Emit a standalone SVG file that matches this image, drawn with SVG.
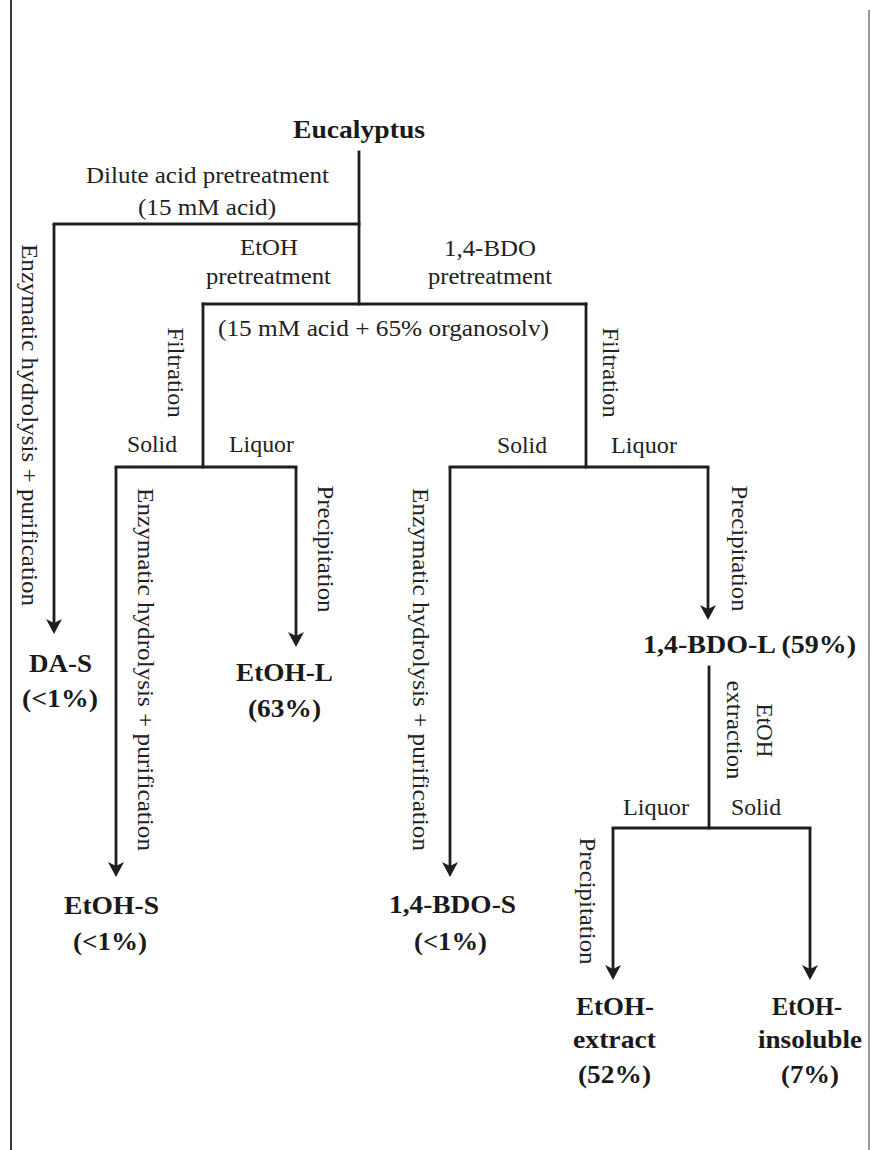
<svg xmlns="http://www.w3.org/2000/svg" width="871" height="1150" viewBox="0 0 871 1150">
<style>
.t{font-family:"Liberation Serif","Times New Roman",serif;font-size:23px;fill:#222;text-anchor:middle}
.b{font-family:"Liberation Serif","Times New Roman",serif;font-size:25px;font-weight:bold;fill:#1a1a1a;text-anchor:middle}
.ln{fill:none;stroke:#1e1e1e;stroke-width:2.8;stroke-linecap:square;stroke-linejoin:miter}
.ar{fill:none;stroke:#1e1e1e;stroke-width:2.8;marker-end:url(#ah)}
</style>
<defs>
<marker id="ah" markerUnits="userSpaceOnUse" viewBox="-10 -10 20 20" markerWidth="20" markerHeight="20" refX="0" refY="0" orient="auto">
<path d="M6,0 L-9,-8 L-5,0 L-9,8 Z" fill="#1e1e1e"/>
</marker>
</defs>
<rect x="0" y="0" width="871" height="1150" fill="#fff"/>
<g id="frame">
<line x1="11" y1="0" x2="11" y2="1150" stroke="#3a3a3a" stroke-width="2"/>
<line x1="869" y1="10" x2="869" y2="1150" stroke="#999" stroke-width="2"/>
</g>
<g id="connectors">
<path class="ln" d="M359,152 V304"/>
<path class="ln" d="M203,304 H586"/>
<path class="ln" d="M359,224 H54"/>
<path class="ar" d="M54,224 V628"/>
<path class="ln" d="M203,304 V467"/>
<path class="ln" d="M116,467 H296"/>
<path class="ar" d="M296,467 V641"/>
<path class="ar" d="M116,467 V871"/>
<path class="ln" d="M586,304 V467"/>
<path class="ln" d="M450,467 H708"/>
<path class="ar" d="M708,467 V614"/>
<path class="ar" d="M450,467 V871"/>
<path class="ln" d="M709,667 V828"/>
<path class="ln" d="M613,828 H810"/>
<path class="ar" d="M613,828 V974"/>
<path class="ar" d="M810,828 V974"/>
</g>
<g id="labels">
<text class="t" x="207.5" y="183" textLength="243" lengthAdjust="spacingAndGlyphs">Dilute acid pretreatment</text>
<text class="t" x="207" y="215" textLength="138" lengthAdjust="spacingAndGlyphs">(15 mM acid)</text>
<text class="t" x="269" y="255" textLength="58" lengthAdjust="spacingAndGlyphs">EtOH</text>
<text class="t" x="268.5" y="284" textLength="125" lengthAdjust="spacingAndGlyphs">pretreatment</text>
<text class="t" x="490" y="256" textLength="92" lengthAdjust="spacingAndGlyphs">1,4-BDO</text>
<text class="t" x="490" y="284" textLength="124" lengthAdjust="spacingAndGlyphs">pretreatment</text>
<text class="t" x="383.5" y="336" textLength="331" lengthAdjust="spacingAndGlyphs">(15 mM acid + 65% organosolv)</text>
<text class="t" x="152" y="452" textLength="50" lengthAdjust="spacingAndGlyphs">Solid</text>
<text class="t" x="261.5" y="452" textLength="65" lengthAdjust="spacingAndGlyphs">Liquor</text>
<text class="t" x="522" y="453" textLength="50" lengthAdjust="spacingAndGlyphs">Solid</text>
<text class="t" x="644" y="453" textLength="66" lengthAdjust="spacingAndGlyphs">Liquor</text>
<text class="t" x="656" y="815" textLength="66" lengthAdjust="spacingAndGlyphs">Liquor</text>
<text class="t" x="756" y="815" textLength="50" lengthAdjust="spacingAndGlyphs">Solid</text>
<text class="t" transform="translate(22,425) rotate(90)" textLength="362" lengthAdjust="spacingAndGlyphs">Enzymatic hydrolysis + purification</text>
<text class="t" transform="translate(168,372.5) rotate(90)" textLength="90" lengthAdjust="spacingAndGlyphs">Filtration</text>
<text class="t" transform="translate(138,669.5) rotate(90)" textLength="363" lengthAdjust="spacingAndGlyphs">Enzymatic hydrolysis + purification</text>
<text class="t" transform="translate(318,549) rotate(90)" textLength="127" lengthAdjust="spacingAndGlyphs">Precipitation</text>
<text class="t" transform="translate(413,669.5) rotate(90)" textLength="363" lengthAdjust="spacingAndGlyphs">Enzymatic hydrolysis + purification</text>
<text class="t" transform="translate(603,372.5) rotate(90)" textLength="90" lengthAdjust="spacingAndGlyphs">Filtration</text>
<text class="t" transform="translate(732,548.5) rotate(90)" textLength="126" lengthAdjust="spacingAndGlyphs">Precipitation</text>
<text class="t" transform="translate(757,730.5) rotate(90)" textLength="54" lengthAdjust="spacingAndGlyphs">EtOH</text>
<text class="t" transform="translate(727,730) rotate(90)" textLength="99" lengthAdjust="spacingAndGlyphs">extraction</text>
<text class="t" transform="translate(580,901) rotate(90)" textLength="127" lengthAdjust="spacingAndGlyphs">Precipitation</text>
</g>
<g id="node-eucalyptus"><text class="b" x="359" y="138" textLength="132" lengthAdjust="spacingAndGlyphs">Eucalyptus</text></g>
<g id="node-das">
<text class="b" x="60.5" y="672" textLength="63" lengthAdjust="spacingAndGlyphs">DA-S</text>
<text class="b" x="60" y="707" textLength="76" lengthAdjust="spacingAndGlyphs">(&lt;1%)</text>
</g>
<g id="node-etohl">
<text class="b" x="284.5" y="681" textLength="97" lengthAdjust="spacingAndGlyphs">EtOH-L</text>
<text class="b" x="284.5" y="717" textLength="73" lengthAdjust="spacingAndGlyphs">(63%)</text>
</g>
<g id="node-etohs">
<text class="b" x="111.5" y="914" textLength="95" lengthAdjust="spacingAndGlyphs">EtOH-S</text>
<text class="b" x="110" y="950" textLength="74" lengthAdjust="spacingAndGlyphs">(&lt;1%)</text>
</g>
<g id="node-bdos">
<text class="b" x="452.5" y="913" textLength="127" lengthAdjust="spacingAndGlyphs">1,4-BDO-S</text>
<text class="b" x="450.5" y="950" textLength="73" lengthAdjust="spacingAndGlyphs">(&lt;1%)</text>
</g>
<g id="node-bdol">
<text class="b" x="749.5" y="653" textLength="213" lengthAdjust="spacingAndGlyphs">1,4-BDO-L (59%)</text>
</g>
<g id="node-extract">
<text class="b" x="615" y="1015" textLength="78" lengthAdjust="spacingAndGlyphs">EtOH-</text>
<text class="b" x="614.5" y="1048" textLength="83" lengthAdjust="spacingAndGlyphs">extract</text>
<text class="b" x="614.5" y="1083" textLength="73" lengthAdjust="spacingAndGlyphs">(52%)</text>
</g>
<g id="node-insoluble">
<text class="b" x="807" y="1015" textLength="70" lengthAdjust="spacingAndGlyphs">EtOH-</text>
<text class="b" x="810" y="1048" textLength="104" lengthAdjust="spacingAndGlyphs">insoluble</text>
<text class="b" x="810" y="1083" textLength="58" lengthAdjust="spacingAndGlyphs">(7%)</text>
</g>
</svg>
